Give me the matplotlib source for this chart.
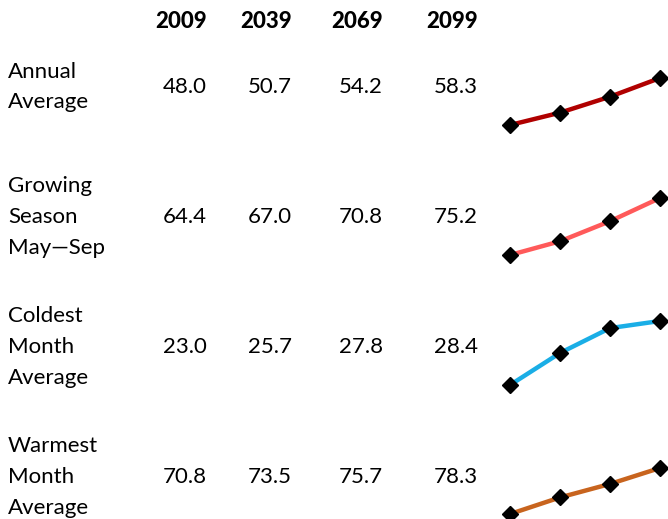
import matplotlib
matplotlib.use('Agg')
import matplotlib.pyplot as plt

plt.rcParams['font.family'] = ['Lato', 'DejaVu Sans']

# Table data
years = ['2009', '2039', '2069', '2099']
row_labels = ['Annual\nAverage', 'Growing\nSeason\nMay\u2014Sep', 'Coldest\nMonth\nAverage', 'Warmest\nMonth\nAverage']
annual = [48.0, 50.7, 54.2, 58.3]
growing = [64.4, 67.0, 70.8, 75.2]
coldest = [23.0, 25.7, 27.8, 28.4]
warmest = [70.8, 73.5, 75.7, 78.3]
series = [annual, growing, coldest, warmest]
colors = ['#B00000', '#FF5A5A', '#1AAEE6', '#C8641E']

W, H = 668, 519
fig = plt.figure(figsize=(W / 100, H / 100), dpi=100)

def fy(py):
    return 1 - py / H

# column right edges (px) and row centres (px)
col_right = [207, 292, 383, 478]
row_center = [87, 217, 347, 477]
# sparkline vertical extent (px): bottom (min value) / top (max value)
spark_px = [(125, 78), (255, 198), (385, 321), (514, 468)]

for x, yr in zip(col_right, years):
    fig.text(x / W, fy(21), yr, ha='right', va='center', fontsize=16, fontweight='black')

for i, (lab, vals) in enumerate(zip(row_labels, series)):
    fig.text(8 / W, fy(row_center[i]), lab, ha='left', va='center', fontsize=16,
             linespacing=1.68)
    for x, v in zip(col_right, vals):
        fig.text(x / W, fy(row_center[i]), f'{v:.1f}', ha='right', va='center', fontsize=16)

    bot, top = spark_px[i]
    ax = fig.add_axes([510 / W, fy(bot), 150 / W, (bot - top) / H])
    ax.plot(range(len(vals)), vals, color=colors[i], lw=3.2, marker='D',
            markersize=8, markerfacecolor='black', markeredgecolor='black',
            clip_on=False, zorder=3)
    ax.set_xlim(0, len(vals) - 1)
    ax.set_ylim(min(vals), max(vals))
    ax.axis('off')

fig.savefig('out.png', dpi=100)
